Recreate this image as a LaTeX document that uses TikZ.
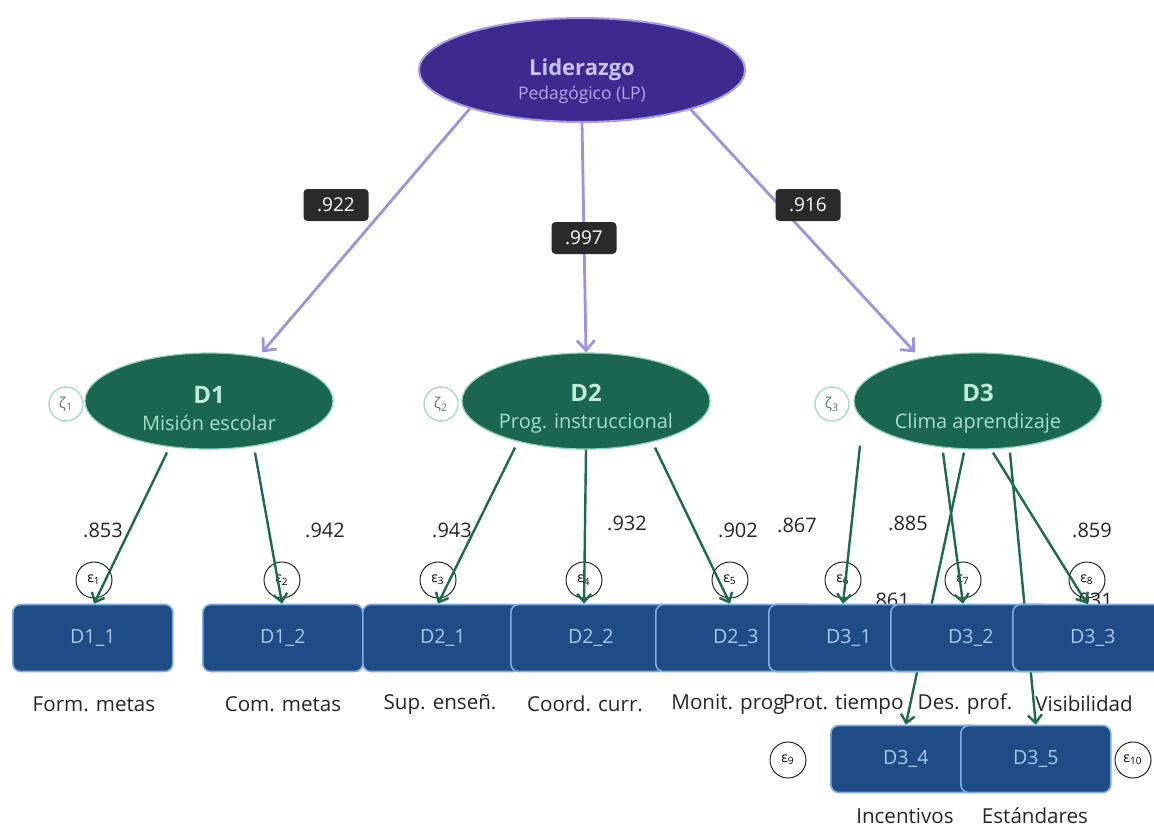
\documentclass[tikz,border=0pt]{standalone}
\usepackage{fontspec}
\setmainfont{Open Sans}
\usetikzlibrary{arrows.meta,positioning,calc,shapes.geometric}
\definecolor{lpfill}{HTML}{3C2A8E}
\definecolor{lpedge}{HTML}{A899EA}
\definecolor{lptitle}{HTML}{CBC2F7}
\definecolor{lpsub}{HTML}{B4A8F2}
\definecolor{lparrow}{HTML}{9E91DE}
\definecolor{dfill}{HTML}{1A6650}
\definecolor{dedge}{HTML}{8CD4B6}
\definecolor{dtitle}{HTML}{BDEDD8}
\definecolor{dsub}{HTML}{A6DFC8}
\definecolor{garrow}{HTML}{1E6A4F}
\definecolor{zedge}{HTML}{A9DBC7}
\definecolor{ztext}{HTML}{4D7D6E}
\definecolor{boxfill}{HTML}{1F4C86}
\definecolor{boxedge}{HTML}{7AAEE2}
\definecolor{boxtext}{HTML}{A8CAF2}
\definecolor{valfill}{HTML}{2A2A2A}
\pgfdeclarelayer{back}
\pgfsetlayers{back,main}
\tikzset{
  lat/.style={ellipse, align=center, inner sep=0pt},
  lpnode/.style={lat, fill=lpfill, draw=lpedge, line width=1pt, minimum width=163pt, minimum height=52pt},
  dimnode/.style={lat, fill=dfill, draw=dedge, line width=0.6pt, minimum width=124pt, minimum height=48pt},
  dist/.style={circle, draw=zedge, line width=0.7pt, minimum size=17pt, inner sep=0pt, text=ztext, font=\fontsize{7.5}{8}\selectfont},
  err/.style={circle, draw=black!85, line width=0.5pt, minimum size=18pt, inner sep=0pt, font=\fontsize{7}{8}\selectfont},
  obs/.style={draw=boxedge, fill=boxfill, line width=0.8pt, rounded corners=4pt, minimum width=80pt, minimum height=33.5pt, text=boxtext, font=\fontsize{9.8}{11}\selectfont},
  val/.style={fill=valfill, text=white, rounded corners=2pt, minimum width=32.5pt, minimum height=16pt, inner sep=1pt, font=\fontsize{9.5}{11}\selectfont},
  ldg/.style={text=black!85, inner sep=0pt, font=\fontsize{10}{11}\selectfont},
  lbl/.style={text=black!85, inner sep=0pt, font=\fontsize{10.3}{12}\selectfont},
  parr/.style={-{Straight Barb[length=5pt,width=9pt]}, draw=lparrow, line width=1.4pt},
  garr/.style={-{Straight Barb[length=4pt,width=7pt]}, draw=garrow, line width=1.2pt},
}
\begin{document}
\begin{tikzpicture}[x=0.5pt,y=-0.5pt]
\clip (0,0) rectangle (1154,831);
\begin{pgfonlayer}{back}
\fill[white] (0,0) rectangle (1154,831);
\end{pgfonlayer}
% latent variables
\node[lpnode] (LP) at (582,70) {{\fontsize{11}{13}\selectfont\bfseries\color{lptitle}\rule{0pt}{20pt}Liderazgo}\\{\fontsize{8.7}{11}\selectfont\color{lpsub}Pedagógico (LP)}};
\foreach \n/\x/\t/\s in {D1/209/D1/Misión escolar, D2/586/D2/Prog. instruccional, D3/978/D3/Clima aprendizaje}
  \node[dimnode] (\n) at (\x,401) {{\fontsize{12}{14}\selectfont\bfseries\color{dtitle}\rule{0pt}{16pt}\t}\\[1.5pt]{\fontsize{10}{12}\selectfont\color{dsub}\s}};
\foreach \n/\x/\k in {z1/66/1, z2/441/2, z3/832/3}
  \node[dist] (\n) at (\x,404) {ζ\textsubscript{\k}};
% indicators
\foreach \n/\x/\t in {D11/12/D1\_1, D12/202/D1\_2, D21/362/D2\_1, D22/510/D2\_2, D23/655/D2\_3, D31/768/D3\_1, D32/890/D3\_2, D33/1012/D3\_3}
  \node[obs, anchor=west] (\n) at (\x,638) {\t};
\node[obs, anchor=west, minimum width=75pt] (D34) at (830,759) {D3\_4};
\node[obs, anchor=west, minimum width=75pt] (D35) at (960,759) {D3\_5};
% hidden paths under the boxes
\begin{pgfonlayer}{back}
\draw[garr] ($(D3.south)+(-14,3)$) -- (D34.north);
\draw[garr] ($(D3.south)+(32,3)$) -- (D35.north);
\node[ldg] (c9) at (890,600) {.861};
\node[ldg] (c10) at (1093,600) {.931};
\end{pgfonlayer}
% second order loadings
\draw[parr] (LP.199) -- ([xshift=26.5pt]D1.north);
\draw[parr] (LP.south) -- (D2.north);
\draw[parr] (LP.340) -- ([xshift=-31.5pt]D3.north);
\node[val] (w1) at (336,205) {.922};
\node[val] (w2) at (584,238) {.997};
\node[val] (w3) at (808,205) {.916};
% errors
\foreach \n/\x/\k in {e1/94/1, e2/282/2, e3/438/3, e4/584/4, e5/730/5, e6/843/6, e7/963/7, e8/1087/8}
  \node[err] (\n) at (\x,580) {ε\textsubscript{\k}};
\node[err] (e9) at (788,760) {ε\textsubscript{9}};
\node[err] (e10) at (1133,760) {ε\textsubscript{10}};
% first order loadings
\foreach \s/\dx/\dy/\e/\b in {D1/-42/3/e1/D11, D1/46/3/e2/D12, D2/-71/-2/e3/D21, D2/0/0/e4/D22, D2/69/-2/e5/D23, D3/-118/-4/e6/D31, D3/-35/3/e7/D32, D3/15/3/e8/D33}
  \draw[garr] ($(\s.south)+(\dx,\dy)$) -- (\e |- \b.north);
\foreach \n/\x/\y/\t in {c1/103/530/.853, c2/325/530/.942, c3/452/530/.943, c4/627/523/.932, c5/738/530/.902, c6/797/525/.867, c7/908/523/.885, c8/1092/530/.859}
  \node[ldg] (\n) at (\x,\y) {\t};
% item labels
\foreach \n/\x/\t in {l11/94/Form. metas, l12/283/Com. metas, l21/440/Sup. enseñ., l22/585/Coord. curr., l23/728/Monit. prog, l31/843/Prot. tiempo, l32/965/Des. prof., l33/1084/Visibilidad}
  \node[lbl] (\n) at (\x,704) {\t};
\node[lbl] (l34) at (905,816) {Incentivos};
\node[lbl] (l35) at (1035,816) {Estándares};
\end{tikzpicture}
\end{document}
